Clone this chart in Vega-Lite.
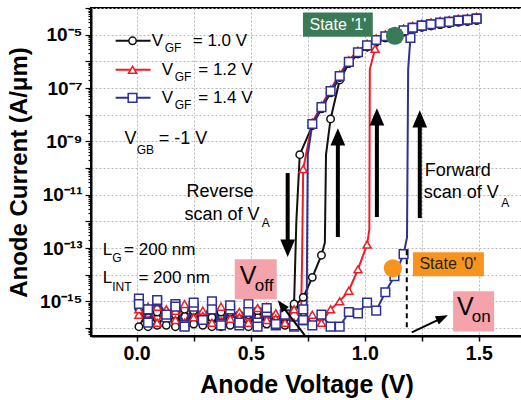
{
"$schema": "https://vega.github.io/schema/vega-lite/v6.json",
"width": 431, "height": 328,
"autosize": {"type": "none"},
"padding": {"left": 91, "top": 8, "right": 0, "bottom": 64},
"config": {
  "view": {"stroke": "black", "strokeWidth": 2},
  "font": "Liberation Sans",
  "axis": {"labelFont": "Liberation Sans", "titleFont": "Liberation Sans"}
},
"datasets": {
"curves": [
{"vgf":"1.0","scan":"fwd","V":0.01,"I":5.01e-16,"pt":1},
{"vgf":"1.0","scan":"fwd","V":0.05,"I":1.12e-16,"pt":1},
{"vgf":"1.0","scan":"fwd","V":0.09,"I":3.98e-16,"pt":1},
{"vgf":"1.0","scan":"fwd","V":0.13,"I":1.26e-16,"pt":1},
{"vgf":"1.0","scan":"fwd","V":0.17,"I":3.16e-16,"pt":1},
{"vgf":"1.0","scan":"fwd","V":0.21,"I":1.12e-16,"pt":1},
{"vgf":"1.0","scan":"fwd","V":0.25,"I":4.47e-16,"pt":1},
{"vgf":"1.0","scan":"fwd","V":0.29,"I":1.26e-16,"pt":1},
{"vgf":"1.0","scan":"fwd","V":0.33,"I":2.51e-16,"pt":1},
{"vgf":"1.0","scan":"fwd","V":0.37,"I":1.12e-16,"pt":1},
{"vgf":"1.0","scan":"fwd","V":0.41,"I":3.98e-16,"pt":1},
{"vgf":"1.0","scan":"fwd","V":0.45,"I":1.41e-16,"pt":1},
{"vgf":"1.0","scan":"fwd","V":0.49,"I":3.16e-16,"pt":1},
{"vgf":"1.0","scan":"fwd","V":0.53,"I":1.12e-16,"pt":1},
{"vgf":"1.0","scan":"fwd","V":0.57,"I":3.55e-16,"pt":1},
{"vgf":"1.0","scan":"fwd","V":0.61,"I":1.26e-16,"pt":1},
{"vgf":"1.0","scan":"fwd","V":0.65,"I":2.51e-16,"pt":1},
{"vgf":"1.0","scan":"fwd","V":0.69,"I":6.31e-16,"pt":1},
{"vgf":"1.0","scan":"fwd","V":0.73,"I":1.41e-15,"pt":1},
{"vgf":"1.0","scan":"fwd","V":0.77,"I":7.94e-15,"pt":1},
{"vgf":"1.0","scan":"fwd","V":0.81,"I":5.37e-14,"pt":1},
{"vgf":"1.0","scan":"fwd","V":0.825,"I":1.58e-13,"pt":0},
{"vgf":"1.0","scan":"fwd","V":0.83,"I":3.16e-10,"pt":0},
{"vgf":"1.0","scan":"fwd","V":0.85,"I":6.92e-9,"pt":1},
{"vgf":"1.0","scan":"fwd","V":0.89,"I":2.0e-7,"pt":1},
{"vgf":"1.0","scan":"fwd","V":0.93,"I":8.32e-7,"pt":1},
{"vgf":"1.0","scan":"fwd","V":0.97,"I":1.905e-6,"pt":1},
{"vgf":"1.0","scan":"fwd","V":1.01,"I":3.47e-6,"pt":1},
{"vgf":"1.0","scan":"fwd","V":1.05,"I":5.5e-6,"pt":1},
{"vgf":"1.0","scan":"fwd","V":1.09,"I":7.59e-6,"pt":1},
{"vgf":"1.0","scan":"fwd","V":1.13,"I":9.77e-6,"pt":1},
{"vgf":"1.0","scan":"fwd","V":1.17,"I":1.26e-5,"pt":1},
{"vgf":"1.0","scan":"fwd","V":1.21,"I":1.58e-5,"pt":1},
{"vgf":"1.0","scan":"fwd","V":1.25,"I":1.905e-5,"pt":1},
{"vgf":"1.0","scan":"fwd","V":1.29,"I":2.14e-5,"pt":1},
{"vgf":"1.0","scan":"fwd","V":1.33,"I":2.4e-5,"pt":1},
{"vgf":"1.0","scan":"fwd","V":1.37,"I":2.63e-5,"pt":1},
{"vgf":"1.0","scan":"fwd","V":1.41,"I":2.95e-5,"pt":1},
{"vgf":"1.0","scan":"fwd","V":1.45,"I":3.16e-5,"pt":1},
{"vgf":"1.0","scan":"fwd","V":1.49,"I":3.47e-5,"pt":1},
{"vgf":"1.0","scan":"rev","V":1.49,"I":3.47e-5,"pt":1},
{"vgf":"1.0","scan":"rev","V":1.45,"I":3.16e-5,"pt":1},
{"vgf":"1.0","scan":"rev","V":1.41,"I":2.95e-5,"pt":1},
{"vgf":"1.0","scan":"rev","V":1.37,"I":2.63e-5,"pt":1},
{"vgf":"1.0","scan":"rev","V":1.33,"I":2.4e-5,"pt":1},
{"vgf":"1.0","scan":"rev","V":1.29,"I":2.14e-5,"pt":1},
{"vgf":"1.0","scan":"rev","V":1.25,"I":1.905e-5,"pt":1},
{"vgf":"1.0","scan":"rev","V":1.21,"I":1.58e-5,"pt":1},
{"vgf":"1.0","scan":"rev","V":1.17,"I":1.26e-5,"pt":1},
{"vgf":"1.0","scan":"rev","V":1.13,"I":9.77e-6,"pt":1},
{"vgf":"1.0","scan":"rev","V":1.09,"I":7.59e-6,"pt":1},
{"vgf":"1.0","scan":"rev","V":1.05,"I":5.5e-6,"pt":1},
{"vgf":"1.0","scan":"rev","V":1.01,"I":3.47e-6,"pt":1},
{"vgf":"1.0","scan":"rev","V":0.97,"I":1.905e-6,"pt":1},
{"vgf":"1.0","scan":"rev","V":0.93,"I":8.32e-7,"pt":1},
{"vgf":"1.0","scan":"rev","V":0.89,"I":2.45e-7,"pt":1},
{"vgf":"1.0","scan":"rev","V":0.85,"I":6.61e-8,"pt":1},
{"vgf":"1.0","scan":"rev","V":0.81,"I":1.66e-8,"pt":1},
{"vgf":"1.0","scan":"rev","V":0.77,"I":3.89e-9,"pt":1},
{"vgf":"1.0","scan":"rev","V":0.715,"I":3.16e-10,"pt":1},
{"vgf":"1.0","scan":"rev","V":0.70,"I":1.0e-12,"pt":0},
{"vgf":"1.0","scan":"rev","V":0.69,"I":7.94e-16,"pt":1},
{"vgf":"1.0","scan":"rev","V":0.65,"I":1.26e-16,"pt":1},
{"vgf":"1.0","scan":"rev","V":0.61,"I":2.51e-16,"pt":1},
{"vgf":"1.0","scan":"rev","V":0.57,"I":1.41e-16,"pt":1},
{"vgf":"1.0","scan":"rev","V":0.53,"I":4.47e-16,"pt":1},
{"vgf":"1.0","scan":"rev","V":0.49,"I":1.12e-16,"pt":1},
{"vgf":"1.0","scan":"rev","V":0.45,"I":3.16e-16,"pt":1},
{"vgf":"1.0","scan":"rev","V":0.41,"I":1.26e-16,"pt":1},
{"vgf":"1.0","scan":"rev","V":0.37,"I":3.98e-16,"pt":1},
{"vgf":"1.0","scan":"rev","V":0.33,"I":1.12e-16,"pt":1},
{"vgf":"1.0","scan":"rev","V":0.29,"I":2.51e-16,"pt":1},
{"vgf":"1.0","scan":"rev","V":0.25,"I":1.41e-16,"pt":1},
{"vgf":"1.0","scan":"rev","V":0.21,"I":5.01e-16,"pt":1},
{"vgf":"1.0","scan":"rev","V":0.17,"I":1.12e-16,"pt":1},
{"vgf":"1.0","scan":"rev","V":0.13,"I":3.16e-16,"pt":1},
{"vgf":"1.0","scan":"rev","V":0.09,"I":1.26e-16,"pt":1},
{"vgf":"1.0","scan":"rev","V":0.05,"I":4.47e-16,"pt":1},
{"vgf":"1.0","scan":"rev","V":0.01,"I":1.12e-16,"pt":1},
{"vgf":"1.2","scan":"fwd","V":0.01,"I":3.16e-16,"pt":1},
{"vgf":"1.2","scan":"fwd","V":0.05,"I":6.31e-16,"pt":1},
{"vgf":"1.2","scan":"fwd","V":0.09,"I":1.58e-16,"pt":1},
{"vgf":"1.2","scan":"fwd","V":0.13,"I":5.01e-16,"pt":1},
{"vgf":"1.2","scan":"fwd","V":0.17,"I":2.0e-16,"pt":1},
{"vgf":"1.2","scan":"fwd","V":0.21,"I":7.94e-16,"pt":1},
{"vgf":"1.2","scan":"fwd","V":0.25,"I":2.51e-16,"pt":1},
{"vgf":"1.2","scan":"fwd","V":0.29,"I":4.47e-16,"pt":1},
{"vgf":"1.2","scan":"fwd","V":0.33,"I":1.58e-16,"pt":1},
{"vgf":"1.2","scan":"fwd","V":0.37,"I":6.31e-16,"pt":1},
{"vgf":"1.2","scan":"fwd","V":0.41,"I":2.24e-16,"pt":1},
{"vgf":"1.2","scan":"fwd","V":0.45,"I":3.98e-16,"pt":1},
{"vgf":"1.2","scan":"fwd","V":0.49,"I":1.58e-16,"pt":1},
{"vgf":"1.2","scan":"fwd","V":0.53,"I":5.62e-16,"pt":1},
{"vgf":"1.2","scan":"fwd","V":0.57,"I":2.0e-16,"pt":1},
{"vgf":"1.2","scan":"fwd","V":0.61,"I":3.55e-16,"pt":1},
{"vgf":"1.2","scan":"fwd","V":0.65,"I":1.58e-16,"pt":1},
{"vgf":"1.2","scan":"fwd","V":0.69,"I":5.01e-16,"pt":1},
{"vgf":"1.2","scan":"fwd","V":0.73,"I":1.78e-16,"pt":1},
{"vgf":"1.2","scan":"fwd","V":0.77,"I":3.16e-16,"pt":1},
{"vgf":"1.2","scan":"fwd","V":0.81,"I":1.58e-16,"pt":1},
{"vgf":"1.2","scan":"fwd","V":0.85,"I":5.01e-16,"pt":1},
{"vgf":"1.2","scan":"fwd","V":0.89,"I":1.0e-15,"pt":1},
{"vgf":"1.2","scan":"fwd","V":0.93,"I":2.51e-15,"pt":1},
{"vgf":"1.2","scan":"fwd","V":0.97,"I":1.58e-14,"pt":1},
{"vgf":"1.2","scan":"fwd","V":1.01,"I":1.35e-13,"pt":1},
{"vgf":"1.2","scan":"fwd","V":1.02,"I":5.01e-13,"pt":0},
{"vgf":"1.2","scan":"fwd","V":1.022,"I":5.01e-7,"pt":0},
{"vgf":"1.2","scan":"fwd","V":1.045,"I":2.95e-6,"pt":1},
{"vgf":"1.2","scan":"fwd","V":1.09,"I":1.0e-5,"pt":1},
{"vgf":"1.2","scan":"fwd","V":1.13,"I":1.29e-5,"pt":1},
{"vgf":"1.2","scan":"fwd","V":1.17,"I":1.66e-5,"pt":1},
{"vgf":"1.2","scan":"fwd","V":1.21,"I":2.09e-5,"pt":1},
{"vgf":"1.2","scan":"fwd","V":1.25,"I":2.51e-5,"pt":1},
{"vgf":"1.2","scan":"fwd","V":1.29,"I":2.82e-5,"pt":1},
{"vgf":"1.2","scan":"fwd","V":1.33,"I":3.16e-5,"pt":1},
{"vgf":"1.2","scan":"fwd","V":1.37,"I":3.47e-5,"pt":1},
{"vgf":"1.2","scan":"fwd","V":1.41,"I":3.89e-5,"pt":1},
{"vgf":"1.2","scan":"fwd","V":1.45,"I":4.17e-5,"pt":1},
{"vgf":"1.2","scan":"fwd","V":1.49,"I":4.57e-5,"pt":1},
{"vgf":"1.2","scan":"rev","V":1.49,"I":4.57e-5,"pt":1},
{"vgf":"1.2","scan":"rev","V":1.45,"I":4.17e-5,"pt":1},
{"vgf":"1.2","scan":"rev","V":1.41,"I":3.89e-5,"pt":1},
{"vgf":"1.2","scan":"rev","V":1.37,"I":3.47e-5,"pt":1},
{"vgf":"1.2","scan":"rev","V":1.33,"I":3.16e-5,"pt":1},
{"vgf":"1.2","scan":"rev","V":1.29,"I":2.82e-5,"pt":1},
{"vgf":"1.2","scan":"rev","V":1.25,"I":2.51e-5,"pt":1},
{"vgf":"1.2","scan":"rev","V":1.21,"I":2.09e-5,"pt":1},
{"vgf":"1.2","scan":"rev","V":1.17,"I":1.66e-5,"pt":1},
{"vgf":"1.2","scan":"rev","V":1.13,"I":1.29e-5,"pt":1},
{"vgf":"1.2","scan":"rev","V":1.09,"I":1.0e-5,"pt":1},
{"vgf":"1.2","scan":"rev","V":1.05,"I":7.24e-6,"pt":1},
{"vgf":"1.2","scan":"rev","V":1.01,"I":4.57e-6,"pt":1},
{"vgf":"1.2","scan":"rev","V":0.97,"I":2.51e-6,"pt":1},
{"vgf":"1.2","scan":"rev","V":0.93,"I":1.1e-6,"pt":1},
{"vgf":"1.2","scan":"rev","V":0.89,"I":3.24e-7,"pt":1},
{"vgf":"1.2","scan":"rev","V":0.85,"I":8.71e-8,"pt":1},
{"vgf":"1.2","scan":"rev","V":0.81,"I":2.19e-8,"pt":1},
{"vgf":"1.2","scan":"rev","V":0.77,"I":5.13e-9,"pt":1},
{"vgf":"1.2","scan":"rev","V":0.73,"I":9.12e-11,"pt":1},
{"vgf":"1.2","scan":"rev","V":0.725,"I":3.16e-14,"pt":0},
{"vgf":"1.2","scan":"rev","V":0.72,"I":1.58e-16,"pt":0},
{"vgf":"1.2","scan":"rev","V":0.69,"I":1.58e-16,"pt":1},
{"vgf":"1.2","scan":"rev","V":0.65,"I":3.16e-16,"pt":1},
{"vgf":"1.2","scan":"rev","V":0.61,"I":2.24e-16,"pt":1},
{"vgf":"1.2","scan":"rev","V":0.57,"I":6.31e-16,"pt":1},
{"vgf":"1.2","scan":"rev","V":0.53,"I":1.58e-16,"pt":1},
{"vgf":"1.2","scan":"rev","V":0.49,"I":3.98e-16,"pt":1},
{"vgf":"1.2","scan":"rev","V":0.45,"I":2.51e-16,"pt":1},
{"vgf":"1.2","scan":"rev","V":0.41,"I":5.62e-16,"pt":1},
{"vgf":"1.2","scan":"rev","V":0.37,"I":1.78e-16,"pt":1},
{"vgf":"1.2","scan":"rev","V":0.33,"I":5.01e-16,"pt":1},
{"vgf":"1.2","scan":"rev","V":0.29,"I":2.82e-16,"pt":1},
{"vgf":"1.2","scan":"rev","V":0.25,"I":7.08e-16,"pt":1},
{"vgf":"1.2","scan":"rev","V":0.21,"I":1.58e-16,"pt":1},
{"vgf":"1.2","scan":"rev","V":0.17,"I":4.47e-16,"pt":1},
{"vgf":"1.2","scan":"rev","V":0.13,"I":2.51e-16,"pt":1},
{"vgf":"1.2","scan":"rev","V":0.09,"I":6.31e-16,"pt":1},
{"vgf":"1.2","scan":"rev","V":0.05,"I":2.0e-16,"pt":1},
{"vgf":"1.2","scan":"rev","V":0.01,"I":5.01e-16,"pt":1},
{"vgf":"1.4","scan":"fwd","V":0.01,"I":1.26e-15,"pt":1},
{"vgf":"1.4","scan":"fwd","V":0.05,"I":5.01e-16,"pt":1},
{"vgf":"1.4","scan":"fwd","V":0.09,"I":1.0e-15,"pt":1},
{"vgf":"1.4","scan":"fwd","V":0.13,"I":2.51e-16,"pt":1},
{"vgf":"1.4","scan":"fwd","V":0.17,"I":7.94e-16,"pt":1},
{"vgf":"1.4","scan":"fwd","V":0.21,"I":1.26e-16,"pt":1},
{"vgf":"1.4","scan":"fwd","V":0.25,"I":6.31e-16,"pt":1},
{"vgf":"1.4","scan":"fwd","V":0.29,"I":2.0e-16,"pt":1},
{"vgf":"1.4","scan":"fwd","V":0.33,"I":1.0e-15,"pt":1},
{"vgf":"1.4","scan":"fwd","V":0.37,"I":1.41e-16,"pt":1},
{"vgf":"1.4","scan":"fwd","V":0.41,"I":5.01e-16,"pt":1},
{"vgf":"1.4","scan":"fwd","V":0.45,"I":1.26e-16,"pt":1},
{"vgf":"1.4","scan":"fwd","V":0.49,"I":7.94e-16,"pt":1},
{"vgf":"1.4","scan":"fwd","V":0.53,"I":1.58e-16,"pt":1},
{"vgf":"1.4","scan":"fwd","V":0.57,"I":3.98e-16,"pt":1},
{"vgf":"1.4","scan":"fwd","V":0.61,"I":1.26e-16,"pt":1},
{"vgf":"1.4","scan":"fwd","V":0.65,"I":3.16e-16,"pt":1},
{"vgf":"1.4","scan":"fwd","V":0.69,"I":1.12e-16,"pt":1},
{"vgf":"1.4","scan":"fwd","V":0.73,"I":5.01e-16,"pt":1},
{"vgf":"1.4","scan":"fwd","V":0.77,"I":1.26e-16,"pt":1},
{"vgf":"1.4","scan":"fwd","V":0.81,"I":3.16e-16,"pt":1},
{"vgf":"1.4","scan":"fwd","V":0.85,"I":1.12e-16,"pt":1},
{"vgf":"1.4","scan":"fwd","V":0.89,"I":1.12e-16,"pt":1},
{"vgf":"1.4","scan":"fwd","V":0.93,"I":3.98e-16,"pt":1},
{"vgf":"1.4","scan":"fwd","V":0.97,"I":3.55e-16,"pt":1},
{"vgf":"1.4","scan":"fwd","V":1.01,"I":8.91e-16,"pt":1},
{"vgf":"1.4","scan":"fwd","V":1.05,"I":4.47e-16,"pt":1},
{"vgf":"1.4","scan":"fwd","V":1.09,"I":2.19e-15,"pt":1},
{"vgf":"1.4","scan":"fwd","V":1.13,"I":8.71e-15,"pt":1},
{"vgf":"1.4","scan":"fwd","V":1.17,"I":5.89e-14,"pt":1},
{"vgf":"1.4","scan":"fwd","V":1.185,"I":2.51e-13,"pt":0},
{"vgf":"1.4","scan":"fwd","V":1.19,"I":5.01e-7,"pt":0},
{"vgf":"1.4","scan":"fwd","V":1.2,"I":7.59e-6,"pt":1},
{"vgf":"1.4","scan":"fwd","V":1.21,"I":1.82e-5,"pt":1},
{"vgf":"1.4","scan":"fwd","V":1.25,"I":2.19e-5,"pt":1},
{"vgf":"1.4","scan":"fwd","V":1.29,"I":2.45e-5,"pt":1},
{"vgf":"1.4","scan":"fwd","V":1.33,"I":2.75e-5,"pt":1},
{"vgf":"1.4","scan":"fwd","V":1.37,"I":3.02e-5,"pt":1},
{"vgf":"1.4","scan":"fwd","V":1.41,"I":3.39e-5,"pt":1},
{"vgf":"1.4","scan":"fwd","V":1.45,"I":3.63e-5,"pt":1},
{"vgf":"1.4","scan":"fwd","V":1.49,"I":3.98e-5,"pt":1},
{"vgf":"1.4","scan":"rev","V":1.49,"I":3.98e-5,"pt":1},
{"vgf":"1.4","scan":"rev","V":1.45,"I":3.63e-5,"pt":1},
{"vgf":"1.4","scan":"rev","V":1.41,"I":3.39e-5,"pt":1},
{"vgf":"1.4","scan":"rev","V":1.37,"I":3.02e-5,"pt":1},
{"vgf":"1.4","scan":"rev","V":1.33,"I":2.75e-5,"pt":1},
{"vgf":"1.4","scan":"rev","V":1.29,"I":2.45e-5,"pt":1},
{"vgf":"1.4","scan":"rev","V":1.25,"I":2.19e-5,"pt":1},
{"vgf":"1.4","scan":"rev","V":1.21,"I":1.82e-5,"pt":1},
{"vgf":"1.4","scan":"rev","V":1.17,"I":1.445e-5,"pt":1},
{"vgf":"1.4","scan":"rev","V":1.13,"I":1.12e-5,"pt":1},
{"vgf":"1.4","scan":"rev","V":1.09,"I":8.71e-6,"pt":1},
{"vgf":"1.4","scan":"rev","V":1.05,"I":6.31e-6,"pt":1},
{"vgf":"1.4","scan":"rev","V":1.01,"I":3.98e-6,"pt":1},
{"vgf":"1.4","scan":"rev","V":0.97,"I":2.19e-6,"pt":1},
{"vgf":"1.4","scan":"rev","V":0.93,"I":9.55e-7,"pt":1},
{"vgf":"1.4","scan":"rev","V":0.89,"I":2.82e-7,"pt":1},
{"vgf":"1.4","scan":"rev","V":0.85,"I":7.59e-8,"pt":1},
{"vgf":"1.4","scan":"rev","V":0.81,"I":1.905e-8,"pt":1},
{"vgf":"1.4","scan":"rev","V":0.77,"I":4.47e-9,"pt":1},
{"vgf":"1.4","scan":"rev","V":0.75,"I":3.16e-10,"pt":0},
{"vgf":"1.4","scan":"rev","V":0.745,"I":2.51e-16,"pt":0},
{"vgf":"1.4","scan":"rev","V":0.73,"I":2.0e-16,"pt":1},
{"vgf":"1.4","scan":"rev","V":0.69,"I":1.26e-16,"pt":1},
{"vgf":"1.4","scan":"rev","V":0.65,"I":3.16e-16,"pt":1},
{"vgf":"1.4","scan":"rev","V":0.61,"I":1.41e-16,"pt":1},
{"vgf":"1.4","scan":"rev","V":0.57,"I":5.62e-16,"pt":1},
{"vgf":"1.4","scan":"rev","V":0.53,"I":1.12e-16,"pt":1},
{"vgf":"1.4","scan":"rev","V":0.49,"I":3.98e-16,"pt":1},
{"vgf":"1.4","scan":"rev","V":0.45,"I":1.58e-16,"pt":1},
{"vgf":"1.4","scan":"rev","V":0.41,"I":7.08e-16,"pt":1},
{"vgf":"1.4","scan":"rev","V":0.37,"I":1.26e-16,"pt":1},
{"vgf":"1.4","scan":"rev","V":0.33,"I":5.01e-16,"pt":1},
{"vgf":"1.4","scan":"rev","V":0.29,"I":2.0e-16,"pt":1},
{"vgf":"1.4","scan":"rev","V":0.25,"I":8.91e-16,"pt":1},
{"vgf":"1.4","scan":"rev","V":0.21,"I":1.12e-16,"pt":1},
{"vgf":"1.4","scan":"rev","V":0.17,"I":6.31e-16,"pt":1},
{"vgf":"1.4","scan":"rev","V":0.13,"I":3.16e-16,"pt":1},
{"vgf":"1.4","scan":"rev","V":0.09,"I":1.12e-15,"pt":1},
{"vgf":"1.4","scan":"rev","V":0.05,"I":1.58e-16,"pt":1},
{"vgf":"1.4","scan":"rev","V":0.01,"I":7.94e-16,"pt":1}
],
"legendLines": [
{"vgf":"1.0","V":-0.092,"V2":0.061,"I":5.89e-6},
{"vgf":"1.2","V":-0.092,"V2":0.061,"I":4.79e-7},
{"vgf":"1.4","V":-0.092,"V2":0.061,"I":4.27e-8}
],
"legendPts": [
{"vgf":"1.0","V":-0.018,"I":5.89e-6},
{"vgf":"1.2","V":-0.018,"I":4.79e-7},
{"vgf":"1.4","V":-0.018,"I":4.27e-8}
],
"text17": [
{"t":"V","V":0.066,"I":5.89e-6},
{"t":"= 1.0 V","V":0.246,"I":5.89e-6},
{"t":"V","V":0.110,"I":4.79e-7},
{"t":"= 1.2 V","V":0.270,"I":4.79e-7},
{"t":"V","V":0.110,"I":4.27e-8},
{"t":"= 1.4 V","V":0.270,"I":4.27e-8},
{"t":"L","V":-0.149,"I":8.32e-14},
{"t":"= 200 nm","V":-0.055,"I":8.32e-14},
{"t":"L","V":-0.149,"I":7.24e-15},
{"t":"= 200 nm","V":0.008,"I":7.24e-15},
{"t":"off","V":0.518,"I":3.63e-15},
{"t":"on","V":1.469,"I":2.51e-16}
],
"text18": [
{"t":"V","V":-0.053,"I":1.23e-9},
{"t":"= -1 V","V":0.097,"I":1.23e-9},
{"t":"Reverse","V":0.219,"I":1.26e-11},
{"t":"scan of V","V":0.210,"I":1.7e-12},
{"t":"Forward","V":1.263,"I":7.76e-11},
{"t":"scan of V","V":1.258,"I":1.15e-11}
],
"textSub": [
{"t":"GF","V":0.123,"I":3.24e-6},
{"t":"GF","V":0.167,"I":2.63e-7},
{"t":"GF","V":0.167,"I":2.34e-8},
{"t":"GB","V":0.0,"I":4.79e-10},
{"t":"A","V":0.548,"I":8.51e-13},
{"t":"A","V":1.598,"I":4.79e-12},
{"t":"G","V":-0.107,"I":4.17e-14},
{"t":"INT","V":-0.107,"I":3.39e-15}
],
"textBig": [
{"t":"V","V":0.452,"I":8.71e-15},
{"t":"V","V":1.404,"I":5.89e-16}
]
},
"encoding": {
  "x": {"field": "V", "type": "quantitative", "title": "Anode Voltage (V)",
    "scale": {"domain": [-0.2, 1.689], "nice": false, "zero": false},
    "axis": {"values": [0, 0.25, 0.5, 0.75, 1, 1.25, 1.5],
      "labelExpr": "datum.value % 0.5 == 0 ? format(datum.value, '.1f') : ''",
      "labelFontSize": 19.5, "labelFontWeight": "bold", "labelColor": "black", "labelPadding": 3,
      "tickSize": 5, "tickColor": "black", "tickWidth": 1.5,
      "domainColor": "black", "domainWidth": 2,
      "grid": true, "gridColor": "#b8b8b8", "gridDash": [2, 2],
      "titleFontSize": 25, "titleFontWeight": "bold", "titleColor": "black", "titlePadding": 10}},
  "y": {"field": "I", "type": "quantitative", "title": "Anode Current (A/μm)",
    "scale": {"type": "log", "domain": [5.012e-17, 1e-4], "nice": false},
    "axis": {"values": [6e-17,7e-17,8e-17,9e-17,
      1e-16,2e-16,3e-16,4e-16,5e-16,6e-16,7e-16,8e-16,9e-16,
      1e-15,2e-15,3e-15,4e-15,5e-15,6e-15,7e-15,8e-15,9e-15,
      1e-14,2e-14,3e-14,4e-14,5e-14,6e-14,7e-14,8e-14,9e-14,
      1e-13,2e-13,3e-13,4e-13,5e-13,6e-13,7e-13,8e-13,9e-13,
      1e-12,2e-12,3e-12,4e-12,5e-12,6e-12,7e-12,8e-12,9e-12,
      1e-11,2e-11,3e-11,4e-11,5e-11,6e-11,7e-11,8e-11,9e-11,
      1e-10,2e-10,3e-10,4e-10,5e-10,6e-10,7e-10,8e-10,9e-10,
      1e-9,2e-9,3e-9,4e-9,5e-9,6e-9,7e-9,8e-9,9e-9,
      1e-8,2e-8,3e-8,4e-8,5e-8,6e-8,7e-8,8e-8,9e-8,
      1e-7,2e-7,3e-7,4e-7,5e-7,6e-7,7e-7,8e-7,9e-7,
      1e-6,2e-6,3e-6,4e-6,5e-6,6e-6,7e-6,8e-6,9e-6,
      1e-5,2e-5,3e-5,4e-5,5e-5,6e-5,7e-5,8e-5,9e-5,1e-4],
      "labelExpr": "abs(log(datum.value)/LN10 - round(log(datum.value)/LN10)) > 0.02 ? '' : (round(log(datum.value)/LN10) == -5 ? '10⁻⁵' : round(log(datum.value)/LN10) == -7 ? '10⁻⁷' : round(log(datum.value)/LN10) == -9 ? '10⁻⁹' : round(log(datum.value)/LN10) == -11 ? '10⁻¹¹' : round(log(datum.value)/LN10) == -13 ? '10⁻¹³' : round(log(datum.value)/LN10) == -15 ? '10⁻¹⁵' : '')",
      "labelFontSize": 19, "labelFontWeight": "bold", "labelColor": "black", "labelOverlap": false, "labelPadding": 3,
      "tickColor": "black", "tickWidth": 1.2,
      "tickSize": {"condition": {"test": "abs(log(datum.value)/LN10 - round(log(datum.value)/LN10)) < 0.02", "value": 6}, "value": 3},
      "grid": true, "gridColor": "#b8b8b8", "gridDash": [2, 2],
      "gridOpacity": {"condition": {"test": "abs(log(datum.value)/LN10 - round(log(datum.value)/LN10)) < 0.02", "value": 1}, "value": 0},
      "domainColor": "black", "domainWidth": 2,
      "titleFontSize": 24, "titleFontWeight": "bold", "titleColor": "black", "titlePadding": 8}}
},
"layer": [
  {"data": {"name": "curves"},
   "mark": {"type": "line", "strokeWidth": 2},
   "encoding": {
     "stroke": {"field": "vgf", "type": "nominal", "scale": {"domain": ["1.0", "1.2", "1.4"], "range": ["#111111", "#ee1c25", "#2e3192"]}, "legend": null},
     "detail": {"field": "scan"}}},
  {"data": {"name": "curves"},
   "transform": [{"filter": "datum.pt == 1"}],
   "mark": {"type": "point", "filled": true, "fill": "white", "strokeWidth": 1.5, "opacity": 1},
   "encoding": {
     "stroke": {"field": "vgf", "type": "nominal", "legend": null},
     "size": {"field": "vgf", "type": "nominal", "scale": {"domain": ["1.0", "1.2", "1.4"], "range": [55, 75, 60]}, "legend": null},
     "shape": {"field": "vgf", "type": "nominal", "scale": {"domain": ["1.0", "1.2", "1.4"], "range": ["circle", "triangle-up", "square"]}, "legend": null}}},
  {"data": {"name": "legendLines"},
   "mark": {"type": "rule", "strokeWidth": 2},
   "encoding": {"x2": {"field": "V2"}, "stroke": {"field": "vgf", "type": "nominal", "legend": null}}},
  {"data": {"name": "legendPts"},
   "mark": {"type": "point", "filled": true, "fill": "white", "strokeWidth": 1.5, "opacity": 1},
   "encoding": {
     "stroke": {"field": "vgf", "type": "nominal", "legend": null},
     "size": {"field": "vgf", "type": "nominal", "legend": null},
     "shape": {"field": "vgf", "type": "nominal", "legend": null}}},
  {"data": {"values": [{"V": 0.430, "V2": 0.614, "I": 3.8e-14, "I2": 1.2e-15}, {"V": 1.387, "V2": 1.567, "I": 2.4e-15, "I2": 7.41e-17}]},
   "mark": {"type": "rect", "fill": "#f4a3aa"},
   "encoding": {"x2": {"field": "V2"}, "y2": {"field": "I2"}}},
  {"data": {"values": [{"V": 0.729, "V2": 1.035, "I": 6.76e-5, "I2": 8.32e-6}]},
   "mark": {"type": "rect", "fill": "#3b7a57"},
   "encoding": {"x2": {"field": "V2"}, "y2": {"field": "I2"}}},
  {"data": {"values": [{"V": 1.211, "V2": 1.522, "I": 6.92e-14, "I2": 8.71e-15}]},
   "mark": {"type": "rect", "fill": "#f7941d"},
   "encoding": {"x2": {"field": "V2"}, "y2": {"field": "I2"}}},
  {"data": {"values": [{"V": 1.132, "I": 9.12e-6}]},
   "mark": {"type": "point", "shape": "circle", "filled": true, "fill": "#3b7a57", "strokeWidth": 0, "size": 330, "opacity": 1},
   "encoding": {}},
  {"data": {"values": [{"V": 1.123, "I": 1.74e-14}]},
   "mark": {"type": "point", "shape": "circle", "filled": true, "fill": "#f7941d", "strokeWidth": 0, "size": 330, "opacity": 1},
   "encoding": {}},
  {"data": {"values": [{"V": 1.184, "I": 8.32e-14, "I2": 8.13e-17}]},
   "mark": {"type": "rule", "stroke": "black", "strokeWidth": 2, "strokeDash": [5, 4]},
   "encoding": {"y2": {"field": "I2"}}},
  {"data": {"values": [{"V": 0.882, "I": 2.57e-13, "I2": 1.48e-9}, {"V": 1.053, "I": 1.45e-12, "I2": 8.32e-9}, {"V": 1.241, "I": 1.32e-12, "I2": 6.92e-9}, {"V": 0.662, "I": 6.46e-11, "I2": 9.77e-14}]},
   "mark": {"type": "rule", "stroke": "black", "strokeWidth": 4},
   "encoding": {"y2": {"field": "I2"}}},
  {"data": {"values": [{"V": 0.882, "I": 1.48e-9}, {"V": 1.053, "I": 8.32e-9}, {"V": 1.241, "I": 6.92e-9}]},
   "mark": {"type": "point", "shape": "M-0.85,1L0,-1L0.85,1Z", "filled": true, "fill": "black", "strokeWidth": 0, "size": 300, "opacity": 1},
   "encoding": {}},
  {"data": {"values": [{"V": 0.662, "I": 9.77e-14}]},
   "mark": {"type": "point", "shape": "M-0.85,-1L0.85,-1L0,1Z", "filled": true, "fill": "black", "strokeWidth": 0, "size": 300, "opacity": 1},
   "encoding": {}},
  {"data": {"values": [{"V": 1.206, "I": 6.84e-17, "V2": 1.340, "I2": 2.4e-16}, {"V": 0.737, "I": 5.25e-17, "V2": 0.635, "I2": 7.24e-16}]},
   "mark": {"type": "rule", "stroke": "black", "strokeWidth": 2},
   "encoding": {"x2": {"field": "V2"}, "y2": {"field": "I2"}}},
  {"data": {"values": [{"V": 1.340, "I": 2.4e-16}]},
   "mark": {"type": "point", "shape": "M-0.75,1L0,-1L0.75,1Z", "angle": 65, "filled": true, "fill": "black", "strokeWidth": 0, "size": 150, "opacity": 1},
   "encoding": {}},
  {"data": {"values": [{"V": 0.635, "I": 7.24e-16}]},
   "mark": {"type": "point", "shape": "M-0.75,1L0,-1L0.75,1Z", "angle": 322, "filled": true, "fill": "black", "strokeWidth": 0, "size": 150, "opacity": 1},
   "encoding": {}},
  {"data": {"name": "text17"},
   "mark": {"type": "text", "align": "left", "baseline": "middle", "fontSize": 17, "font": "Liberation Sans", "color": "black"},
   "encoding": {"text": {"field": "t"}}},
  {"data": {"name": "text18"},
   "mark": {"type": "text", "align": "left", "baseline": "middle", "fontSize": 18, "font": "Liberation Sans", "color": "black"},
   "encoding": {"text": {"field": "t"}}},
  {"data": {"name": "textSub"},
   "mark": {"type": "text", "align": "left", "baseline": "middle", "fontSize": 12, "font": "Liberation Sans", "color": "black"},
   "encoding": {"text": {"field": "t"}}},
  {"data": {"name": "textBig"},
   "mark": {"type": "text", "align": "left", "baseline": "middle", "fontSize": 25, "font": "Liberation Sans", "color": "black"},
   "encoding": {"text": {"field": "t"}}},
  {"data": {"values": [{"t": "State '1'", "V": 0.882, "I": 2.4e-5}]},
   "mark": {"type": "text", "align": "center", "baseline": "middle", "fontSize": 16, "font": "Liberation Sans", "color": "white"},
   "encoding": {"text": {"field": "t"}}},
  {"data": {"values": [{"t": "State '0'", "V": 1.364, "I": 2.45e-14}]},
   "mark": {"type": "text", "align": "center", "baseline": "middle", "fontSize": 16, "font": "Liberation Sans", "color": "#222222"},
   "encoding": {"text": {"field": "t"}}}
]
}
